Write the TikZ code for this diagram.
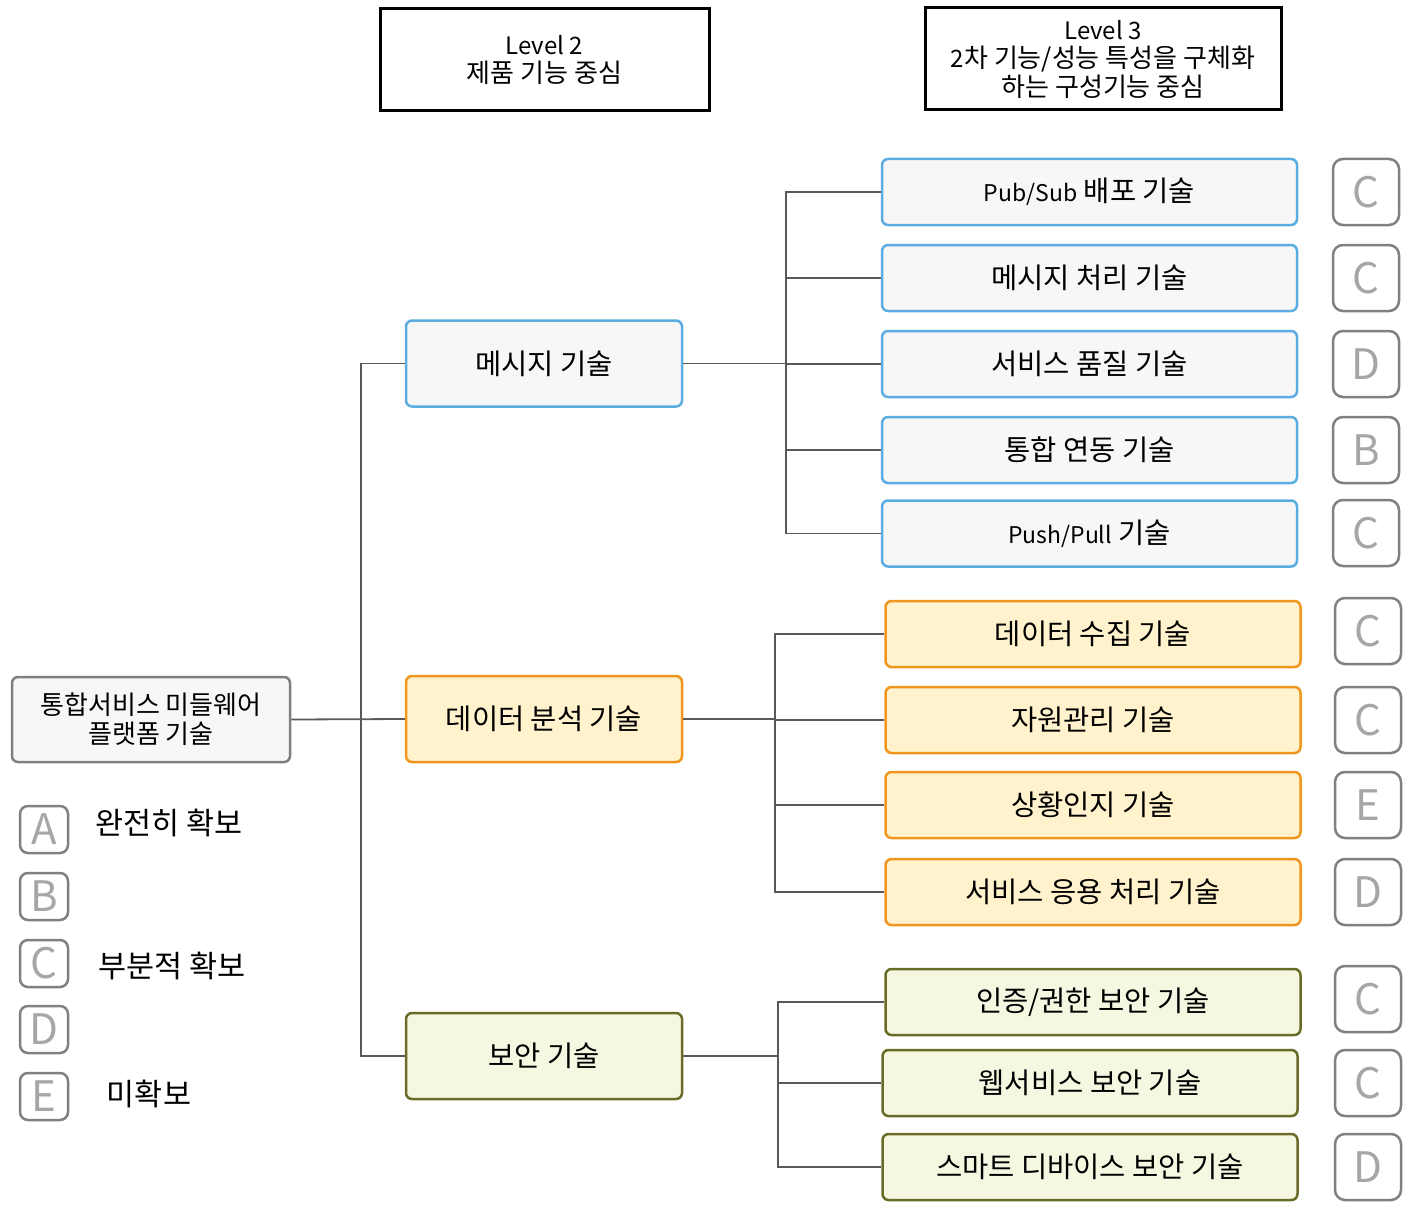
\documentclass[tikz,border=0pt]{standalone}
\usepackage{fontspec}
\setmainfont{Noto Sans CJK KR}
\definecolor{bblue}{RGB}{91,172,224}
\definecolor{bfill}{RGB}{247,247,247}
\definecolor{oline}{RGB}{238,150,30}
\definecolor{ofill}{RGB}{255,242,204}
\definecolor{gline}{RGB}{104,108,38}
\definecolor{gfill}{RGB}{245,247,224}
\definecolor{rline}{RGB}{128,128,128}
\definecolor{gradeline}{RGB}{128,128,128}
\definecolor{gradetext}{RGB}{166,166,166}
\definecolor{linkc}{RGB}{89,89,89}
\newcommand\latn[1]{{\fontsize{23}{30}\selectfont #1}}
\newcommand\lath[1]{{\fontsize{24}{28.5}\selectfont #1}}
\begin{document}
\begin{tikzpicture}[x=1pt,y=-1pt,
  box/.style={draw, rounded corners=6pt, line width=2.5pt, align=center, inner sep=0pt},
  hdr/.style={draw=black, line width=3pt, align=center, inner sep=0pt, font=\fontsize{26}{28.5}\selectfont},
  rootbox/.style={box, draw=rline, fill=bfill, minimum width=278pt, minimum height=85pt, font=\fontsize{26}{29}\selectfont},
  ltwo/.style={box, minimum width=276pt, minimum height=86pt, font=\fontsize{28.5}{30}\selectfont},
  lthree/.style={box, minimum width=415pt, minimum height=66pt, font=\fontsize{28.5}{30}\selectfont},
  bluebox/.style={draw=bblue, fill=bfill},
  orangebox/.style={draw=oline, fill=ofill},
  greenbox/.style={draw=gline, fill=gfill},
  grade/.style={draw=gradeline, fill=white, rounded corners=10pt, line width=2.5pt, text=gradetext, inner sep=0pt, minimum width=66pt, minimum height=66pt, font=\fontsize{42}{42}\selectfont},
  legbox/.style={grade, rounded corners=8pt, minimum width=48pt, minimum height=47pt},
  legtext/.style={inner sep=0pt, font=\fontsize{30.5}{34}\selectfont},
  link/.style={draw=linkc, line width=1.8pt}
]
\useasboundingbox (0,0) rectangle (1423,1209);

% headers
\node[hdr, minimum width=329pt, minimum height=102pt] (h2) at (544.5,60) {\lath{Level 2}\\제품 기능 중심};
\node[hdr, minimum width=356pt, minimum height=102pt] (h3) at (1103,59) {\lath{Level 3}\\\lath{2}차 기능/성능 특성을 구체화\\하는 구성기능 중심};

% root
\node[rootbox] (root) at (151,719.5) {통합서비스 미들웨어\\플랫폼 기술};

% level 2
\node[ltwo, bluebox] (l2a) at (544,363.5) {메시지 기술};
\node[ltwo, orangebox] (l2b) at (544,719) {데이터 분석 기술};
\node[ltwo, greenbox] (l2c) at (544,1056) {보안 기술};

% level 3 blue
\node[lthree, bluebox] (b1) at (1089.5,192) {\latn{Pub/Sub} 배포 기술};
\node[lthree, bluebox] (b2) at (1089.5,278) {메시지 처리 기술};
\node[lthree, bluebox] (b3) at (1089.5,364) {서비스 품질 기술};
\node[lthree, bluebox] (b4) at (1089.5,450) {통합 연동 기술};
\node[lthree, bluebox] (b5) at (1089.5,533.5) {\latn{Push/Pull} 기술};

% level 3 orange
\node[lthree, orangebox] (o1) at (1093,634) {데이터 수집 기술};
\node[lthree, orangebox] (o2) at (1093,720) {자원관리 기술};
\node[lthree, orangebox] (o3) at (1093,805) {상황인지 기술};
\node[lthree, orangebox] (o4) at (1093,892) {서비스 응용 처리 기술};

% level 3 green
\node[lthree, greenbox] (g1) at (1093,1002) {인증/권한 보안 기술};
\node[lthree, greenbox] (g2) at (1090,1083) {웹서비스 보안 기술};
\node[lthree, greenbox] (g3) at (1090,1167) {스마트 디바이스 보안 기술};

% grades
\node[grade] (gb1) at (1366,192) {C};
\node[grade] (gb2) at (1366,278) {C};
\node[grade] (gb3) at (1366,364) {D};
\node[grade] (gb4) at (1366,450) {B};
\node[grade] (gb5) at (1366,533) {C};
\node[grade] (go1) at (1368,631) {C};
\node[grade] (go2) at (1368,720) {C};
\node[grade] (go3) at (1368,805) {E};
\node[grade] (go4) at (1368,892) {D};
\node[grade] (gg1) at (1368,999) {C};
\node[grade] (gg2) at (1368,1083) {C};
\node[grade] (gg3) at (1368,1167) {D};

% legend
\node[legbox] (la) at (44,829.5) {A};
\node[legbox] (lb) at (44,896.5) {B};
\node[legbox] (lc) at (44,963.5) {C};
\node[legbox] (ld) at (44,1029.5) {D};
\node[legbox] (le) at (44,1096.5) {E};
\node[legtext] (ta) at (169,823) {완전히 확보};
\node[legtext] (tc) at (172,966) {부분적 확보};
\node[legtext] (te) at (149,1094) {미확보};

% connectors
\coordinate (tx) at (361,0);
\coordinate (bx) at (786,0);
\coordinate (ox) at (775,0);
\coordinate (gx) at (778,0);

\draw[link] (root.east) -- (l2b.west);
\draw[link] (l2a.west) -| (tx |- l2c.west) -- (l2c.west);

\draw[link] (l2a.east) -- (bx |- l2a.east);
\draw[link] (b1.west) -| (bx |- b5.west) -- (b5.west);
\foreach \n in {b2,b3,b4} \draw[link] (bx |- \n.west) -- (\n.west);

\draw[link] (l2b.east) -- (ox |- l2b.east);
\draw[link] (o1.west) -| (ox |- o4.west) -- (o4.west);
\foreach \n in {o2,o3} \draw[link] (ox |- \n.west) -- (\n.west);

\draw[link] (l2c.east) -- (gx |- l2c.east);
\draw[link] (g1.west) -| (gx |- g3.west) -- (g3.west);
\draw[link] (gx |- g2.west) -- (g2.west);
\end{tikzpicture}
\end{document}
